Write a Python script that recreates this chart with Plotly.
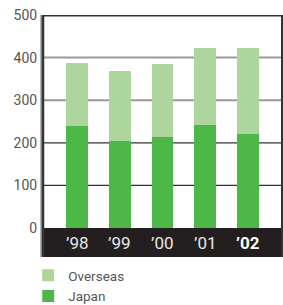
import plotly.graph_objects as go

years = ["’98", "’99", "’00", "’01", "’02"]
japan = [240, 205, 214, 242, 221]
overseas = [147, 163, 171, 181, 202]
y_ticks = [0, 100, 200, 300, 400, 500]
grid_gray = [300, 400]
grid_dark = [100, 200]

FONT = "Roboto, Liberation Sans, sans-serif"

W, H = 283, 305
ML, MR, MT, MB = 0, 1, 15, 0
PW, PH = W - ML - MR, H - MT - MB
x0_px, yb_px = 43, 48

fig = go.Figure()
fig.add_trace(go.Bar(x=years, y=japan, name="Japan", legendgroup="j", legendrank=2,
                     marker=dict(color="#4db848", line=dict(width=0))))
fig.add_trace(go.Bar(x=years, y=overseas, name="Overseas", legendgroup="o", legendrank=1,
                     marker=dict(color="#acd69c", line=dict(width=0))))

xd0 = x0_px / PW
shapes = []
shapes.append(dict(type="rect", xref="paper", yref="y", x0=xd0, x1=1.01, y0=-68, y1=0,
                   fillcolor="#231f20", line=dict(width=0), layer="above"))
for g in grid_gray:
    shapes.append(dict(type="line", xref="paper", yref="y", x0=xd0, x1=1, y0=g, y1=g,
                       line=dict(color="#999999", width=2), layer="below"))
for g in grid_dark:
    shapes.append(dict(type="line", xref="paper", yref="y", x0=xd0, x1=1, y0=g, y1=g,
                       line=dict(color="#333333", width=1.2), layer="below"))
shapes.append(dict(type="line", xref="paper", yref="y", x0=xd0 - 0.004, x1=1, y0=500, y1=500,
                   line=dict(color="#333333", width=3)))
shapes.append(dict(type="line", xref="paper", yref="y", x0=xd0 - 0.006, x1=xd0 - 0.006, y0=-68, y1=500,
                   line=dict(color="#999999", width=2)))
shapes.append(dict(type="line", xref="paper", yref="y", x0=xd0, x1=xd0, y0=-68, y1=500,
                   line=dict(color="#333333", width=2.5)))
shapes.append(dict(type="line", xref="paper", yref="y", x0=1, x1=1, y0=-68, y1=500,
                   line=dict(color="#333333", width=2)))

annotations = []
for i, yr in enumerate(years):
    last = i == len(years) - 1
    annotations.append(dict(x=yr, y=-34, xref="x", yref="y",
                            text=("<b>%s</b>" % yr) if last else yr,
                            showarrow=False,
                            font=dict(family=FONT, size=17, color="white" if last else "#e6e6e6"),
                            xanchor="center", yanchor="middle"))

fig.update_layout(
    width=W, height=H,
    margin=dict(l=ML, r=MR, t=MT, b=MB, autoexpand=False),
    paper_bgcolor="white", plot_bgcolor="white",
    barmode="stack", bargap=0.49,
    showlegend=True,
    legend=dict(orientation="v", x=0.1, y=0.155, xanchor="left", yanchor="top",
                traceorder="grouped", tracegroupgap=0,
                font=dict(family=FONT, size=13.5, color="#555555"),
                itemwidth=30, bgcolor="rgba(0,0,0,0)"),
    xaxis=dict(domain=[xd0, 1], range=[-0.8, 4.8], showticklabels=False, showgrid=False,
               zeroline=False, showline=False, ticks="", automargin=False),
    yaxis=dict(domain=[yb_px / PH, 1], range=[-68, 500], tickvals=y_ticks,
               ticktext=[str(v) for v in y_ticks], automargin=False,
               showgrid=False, zeroline=False, showline=False, ticks="outside", ticklen=2,
               tickcolor="rgba(0,0,0,0)", tickfont=dict(family=FONT, size=14, color="#555555")),
    shapes=shapes, annotations=annotations,
    font=dict(family=FONT),
)

fig.write_html("out.html", config={"displayModeBar": False},
               post_script="document.body.style.margin='0';")
